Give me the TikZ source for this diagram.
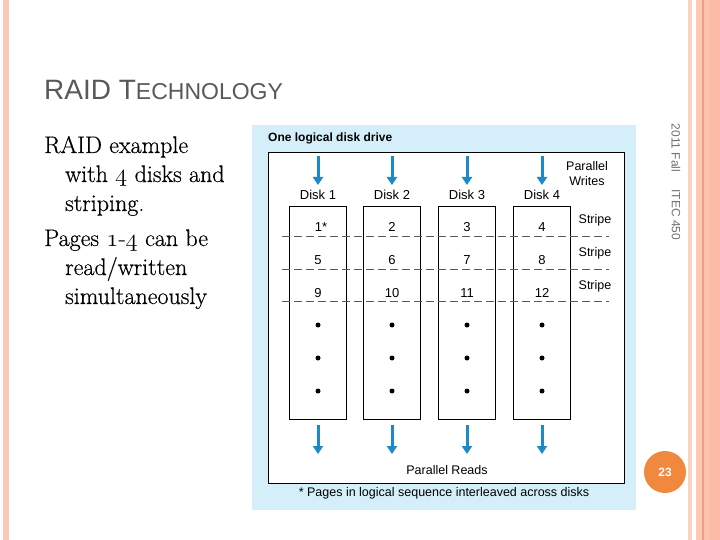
\documentclass[tikz,border=0pt]{standalone}
\usepackage{fontspec}
\newfontfamily\sansf{Liberation Sans}
\newfontfamily\bodyf[FakeBold=0.5]{Latin Modern Roman}
\usetikzlibrary{arrows.meta}
\newcommand\osn[1]{{\fontencoding{OML}\fontfamily{lmm}\fontseries{m}\fontshape{it}\selectfont #1}}
\definecolor{stripeA}{HTML}{F9C9B6}
\definecolor{stripeB}{HTML}{FAD3C4}
\definecolor{stripeC}{HTML}{FCC9B5}
\definecolor{stripeD}{HTML}{F0A080}
\definecolor{stripeE}{HTML}{FDC3AE}
\definecolor{stripeF}{HTML}{FDBBA6}
\definecolor{panelblue}{HTML}{D5EFFA}
\definecolor{arrowblue}{HTML}{1C8AC9}
\definecolor{titlegray}{HTML}{595959}
\definecolor{footgray}{HTML}{707070}
\definecolor{slideorange}{HTML}{F0883E}
\tikzset{
  bodyline/.style={anchor=base west, inner sep=0pt, font=\bodyf\fontsize{24}{29}\selectfont, text=black},
  diskbox/.style={draw=black, line width=0.9pt, fill=white, minimum width=57pt, minimum height=213pt, inner sep=0pt},
  lab/.style={font=\sansf\fontsize{13}{15}\selectfont, inner sep=0pt},
  smalllab/.style={font=\sansf\fontsize{12.5}{15}\selectfont, inner sep=0pt, align=center},
  bluearrow/.style={draw=arrowblue, line width=3pt, -{Triangle[width=10pt,length=8pt]}},
  stripeline/.style={draw=black!65, line width=0.9pt, dash pattern=on 7.5pt off 4.5pt},
  dotmark/.style={circle, fill=black, inner sep=0pt, minimum size=5pt},
}
\begin{document}
\begin{tikzpicture}[x=1pt, y=-1pt]
\useasboundingbox (0,0) rectangle (720,540);
\fill[white] (0,0) rectangle (720,540);
% decorative stripes
\fill[stripeA] (3,0) rectangle (9,540);
\fill[stripeB] (688,0) rectangle (692,540);
\fill[stripeC] (696,0) rectangle (702,540);
\fill[stripeD] (702,0) rectangle (703.5,540);
\fill[stripeE] (703.5,0) rectangle (710,540);
\fill[stripeF] (710,0) rectangle (720,540);
% title
\node[anchor=base west, inner sep=0pt, text=titlegray] (title) at (44,100)
  {\sansf\fontsize{28}{30}\selectfont RAID T\fontsize{23}{25}\selectfont ECHNOLOGY};
% body text
\node[bodyline] (b1) at (44,153) {RAID example};
\node[bodyline] (b2) at (65,182) {with \osn{4} disks and};
\node[bodyline] (b3) at (65,211) {striping.};
\node[bodyline] (b4) at (44,246) {Pages \osn{1}-\osn{4} can be};
\node[bodyline] (b5) at (65,275) {read/written};
\node[bodyline] (b6) at (65,304) {simultaneously};
% panel
\fill[panelblue] (252,125) rectangle (636,510);
\node[anchor=west, inner sep=0pt, font=\sansf\bfseries\fontsize{12}{14}\selectfont] (head) at (268,138) {One logical disk drive};
\draw[black, line width=0.9pt, fill=white] (268,152) rectangle (624,483);
% disks
\foreach \i/\x in {1/318,2/392,3/467,4/542}{
  \node[diskbox] (disk\i) at (\x,312.5) {};
  \node[lab] (dl\i) at (\x,195) {Disk \i};
  \coordinate (wt\i) at (\x,156);
  \coordinate (wb\i) at (\x,185);
  \draw[bluearrow] (wt\i) -- (wb\i);
  \coordinate (rt\i) at (\x,425);
  \coordinate (rb\i) at (\x,454);
  \draw[bluearrow] (rt\i) -- (rb\i);
  \node[dotmark] (da\i) at (\x,325) {};
  \node[dotmark] (db\i) at (\x,358) {};
  \node[dotmark] (dc\i) at (\x,391) {};
}
% stripe separators
\coordinate (s1l) at (282,236.7); \coordinate (s1r) at (609,236.7);
\coordinate (s2l) at (282,269);   \coordinate (s2r) at (609,269);
\coordinate (s3l) at (282,301.7); \coordinate (s3r) at (609,301.7);
\draw[stripeline] (s1l) -- (s1r);
\draw[stripeline] (s2l) -- (s2r);
\draw[stripeline] (s3l) -- (s3r);
% page numbers
\node[lab] (n1) at (321,227) {1*};
\node[lab] (n2) at (392,227) {2};
\node[lab] (n3) at (467,227) {3};
\node[lab] (n4) at (542,227) {4};
\node[lab] (n5) at (318,260) {5};
\node[lab] (n6) at (392,260) {6};
\node[lab] (n7) at (467,260) {7};
\node[lab] (n8) at (542,260) {8};
\node[lab] (n9) at (318,293) {9};
\node[lab] (n10) at (392,293) {10};
\node[lab] (n11) at (467,293) {11};
\node[lab] (n12) at (542,293) {12};
% side labels
\node[smalllab] (pw) at (587,173.5) {Parallel\\Writes};
\node[smalllab] (st1) at (595,220) {Stripe};
\node[smalllab] (st2) at (595,253) {Stripe};
\node[smalllab] (st3) at (595,286) {Stripe};
\node[smalllab] (pr) at (447,470) {Parallel Reads};
\node[smalllab] (foot) at (444,493) {* Pages in logical sequence interleaved across disks};
% footer marks
\node[rotate=-90, inner sep=0pt, text=footgray, font=\sansf\fontsize{12}{14}\selectfont] (yr) at (676,148) {2011 Fall};
\node[rotate=-90, inner sep=0pt, text=footgray, font=\sansf\fontsize{12}{14}\selectfont] (crs) at (676,215) {ITEC 450};
\node[circle, fill=slideorange, minimum size=42pt, inner sep=0pt, text=white, font=\sansf\bfseries\fontsize{12}{14}\selectfont] (pg) at (665,472) {23};
\end{tikzpicture}
\end{document}
